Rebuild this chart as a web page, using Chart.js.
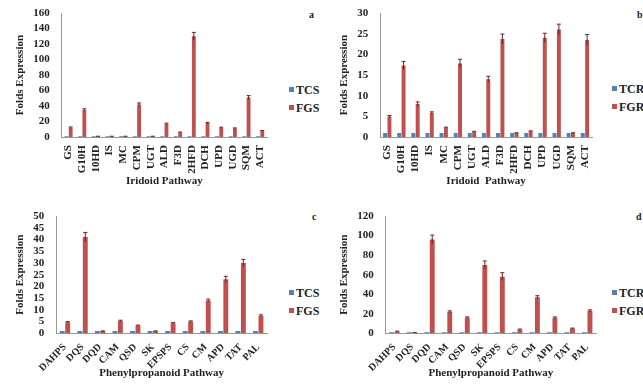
<!DOCTYPE html>
<html>
<head>
<meta charset="utf-8">
<script src="https://cdn.jsdelivr.net/npm/chart.js@4.4.0/dist/chart.umd.min.js"></script>
<style>
  body { margin: 0; background: #fff; width: 643px; height: 392px; overflow: hidden; position: relative; font-family: "Liberation Serif", serif; }
  canvas { position: absolute; }
  .lg { position: absolute; font-weight: bold; font-size: 12px; color: #222; line-height: 18px; white-space: nowrap; }
  .lg span { display: inline-block; width: 5px; height: 5px; margin-right: 2px; vertical-align: 2px; }
  .tag { position: absolute; font-weight: bold; font-size: 10px; color: #222; }
</style>
</head>
<body>
<canvas id="ca" width="285" height="196" style="left:0;top:0"></canvas>
<canvas id="cb" width="285" height="196" style="left:322px;top:0"></canvas>
<canvas id="cc" width="285" height="192" style="left:0;top:200px"></canvas>
<canvas id="cd" width="285" height="192" style="left:322px;top:200px"></canvas>

<div class="lg" style="left:289px;top:81px"><span style="background:#4f81bd"></span>TCS<br><span style="background:#c0504d"></span>FGS</div>
<div class="lg" style="left:612px;top:80px"><span style="background:#4f81bd"></span>TCR<br><span style="background:#c0504d"></span>FGR</div>
<div class="lg" style="left:289px;top:284px"><span style="background:#4f81bd"></span>TCS<br><span style="background:#c0504d"></span>FGS</div>
<div class="lg" style="left:612px;top:284px"><span style="background:#4f81bd"></span>TCR<br><span style="background:#c0504d"></span>FGR</div>

<div class="tag" style="left:309px;top:9px">a</div>
<div class="tag" style="left:637px;top:9px">b</div>
<div class="tag" style="left:312px;top:211px">c</div>
<div class="tag" style="left:636px;top:211px">d</div>

<script>
const iridoidGenes = ['GS', 'G10H', '10HD', 'IS', 'MC', 'CPM', 'UGT', 'ALD', 'F3D', '2HFD', 'DCH', 'UPD', 'UGD', 'SQM', 'ACT'];
const phenylGenes = ['DAHPS', 'DQS', 'DQD', 'CAM', 'QSD', 'SK', 'EPSPS', 'CS', 'CM', 'APD', 'TAT', 'PAL'];

// a: iridoid, shoot
const aTCS = [1, 1, 1, 1, 1, 1, 1, 1, 1, 1, 1, 1, 1, 1, 1];
const aFGS = [12, 35, 1, 1, 1, 42, 1, 17, 6, 130, 18, 12, 11, 51, 8];
const aErr = [1, 1.5, 0.1, 0.1, 0.1, 2, 0.1, 1, 0.5, 5, 1, 0.8, 0.8, 2.5, 0.5];

// b: iridoid, root
const bTCR = [1, 1, 1, 1, 1, 1, 1, 1, 1, 1, 1, 1, 1, 1, 1];
const bFGR = [5, 17.3, 8, 5.8, 2.3, 17.8, 1.3, 14, 23.7, 1, 1.4, 24, 26, 1, 23.5];
const bErr = [0.2, 1, 0.5, 0.3, 0.1, 1, 0.1, 0.7, 1.2, 0.05, 0.1, 1.1, 1.3, 0.05, 1.3];

// c: phenylpropanoid, shoot
const cTCS = [1, 1, 1, 1, 1, 1, 1, 1, 1, 1, 1, 1];
const cFGS = [4.7, 41, 1, 5.3, 3.3, 1, 4.3, 5, 14, 23, 30, 7.5];
const cErr = [0.3, 2, 0.05, 0.3, 0.2, 0.05, 0.3, 0.3, 0.6, 1.3, 1.5, 0.4];

// d: phenylpropanoid, root
const dTCR = [1, 1, 1, 1, 1, 1, 1, 1, 1, 1, 1, 1];
const dFGR = [2, 0.8, 96, 22, 16, 70, 58, 4, 37, 16, 5, 23];
const dErr = [0.3, 0.1, 4.5, 1, 0.8, 4, 4, 0.4, 1.5, 0.8, 0.4, 1];

const fontSerif = 'Liberation Serif';

// draws the error whiskers on the second dataset
const errorBars = {
  id: 'errorBars',
  afterDatasetsDraw(chart, args, opts) {
    const ctx = chart.ctx;
    const meta = chart.getDatasetMeta(1);
    const y = chart.scales.y;
    ctx.save();
    ctx.strokeStyle = '#5a2a28';
    ctx.lineWidth = 1;
    meta.data.forEach((bar, i) => {
      const v = chart.data.datasets[1].data[i];
      const e = opts.err[i];
      const top = y.getPixelForValue(v + e);
      const bot = y.getPixelForValue(v - e);
      ctx.beginPath();
      ctx.moveTo(bar.x, top);
      ctx.lineTo(bar.x, bot);
      ctx.moveTo(bar.x - 2, top);
      ctx.lineTo(bar.x + 2, top);
      ctx.stroke();
    });
    ctx.restore();
  }
};

function makeChart(id, labels, low, high, err, max, step, xTitle, rot, pad, tickSize, titleGap) {
  new Chart(document.getElementById(id), {
    type: 'bar',
    data: {
      labels: labels,
      datasets: [
        { data: low, backgroundColor: '#4f81bd', categoryPercentage: 0.62, barPercentage: 0.9 },
        { data: high, backgroundColor: '#c0504d', categoryPercentage: 0.62, barPercentage: 0.9 }
      ]
    },
    options: {
      responsive: false,
      animation: false,
      layout: { padding: pad },
      plugins: {
        legend: { display: false },
        tooltip: { enabled: false },
        errorBars: { err: err }
      },
      scales: {
        x: {
          grid: { display: false },
          border: { color: '#999' },
          ticks: { color: '#222', minRotation: rot, maxRotation: rot, autoSkip: false, padding: 0,
                   font: { family: fontSerif, size: tickSize, weight: 'bold' } },
          title: { display: true, text: xTitle, color: '#222', padding: { top: titleGap, bottom: 0 },
                   font: { family: fontSerif, size: 11, weight: 'bold' } }
        },
        y: {
          min: 0, max: max,
          grid: { display: false },
          border: { color: '#999' },
          ticks: { stepSize: step, autoSkip: false, color: '#222', padding: 4,
                   font: { family: fontSerif, size: 11, weight: 'bold' } },
          title: { display: true, text: 'Folds Expression', color: '#222', padding: 2,
                   font: { family: fontSerif, size: 11, weight: 'bold' } }
        }
      }
    },
    plugins: [errorBars]
  });
}

makeChart('ca', iridoidGenes, aTCS, aFGS, aErr, 160, 20, 'Iridoid Pathway', 90, { left: 12, top: 13, right: 18, bottom: 8 }, 11, 1);
makeChart('cb', iridoidGenes, bTCR, bFGR, bErr, 30, 5, 'Iridoid  Pathway', 90, { left: 14, top: 13, right: 15, bottom: 8 }, 11, 1);
makeChart('cc', phenylGenes, cTCS, cFGS, cErr, 50, 5, 'Phenylpropanoid Pathway', 45, { left: 12, top: 16, right: 18, bottom: 12 }, 10, -7);
makeChart('cd', phenylGenes, dTCR, dFGR, dErr, 120, 20, 'Phenylpropanoid Pathway', 45, { left: 14, top: 16, right: 11, bottom: 12 }, 10, -7);
</script>
</body>
</html>
